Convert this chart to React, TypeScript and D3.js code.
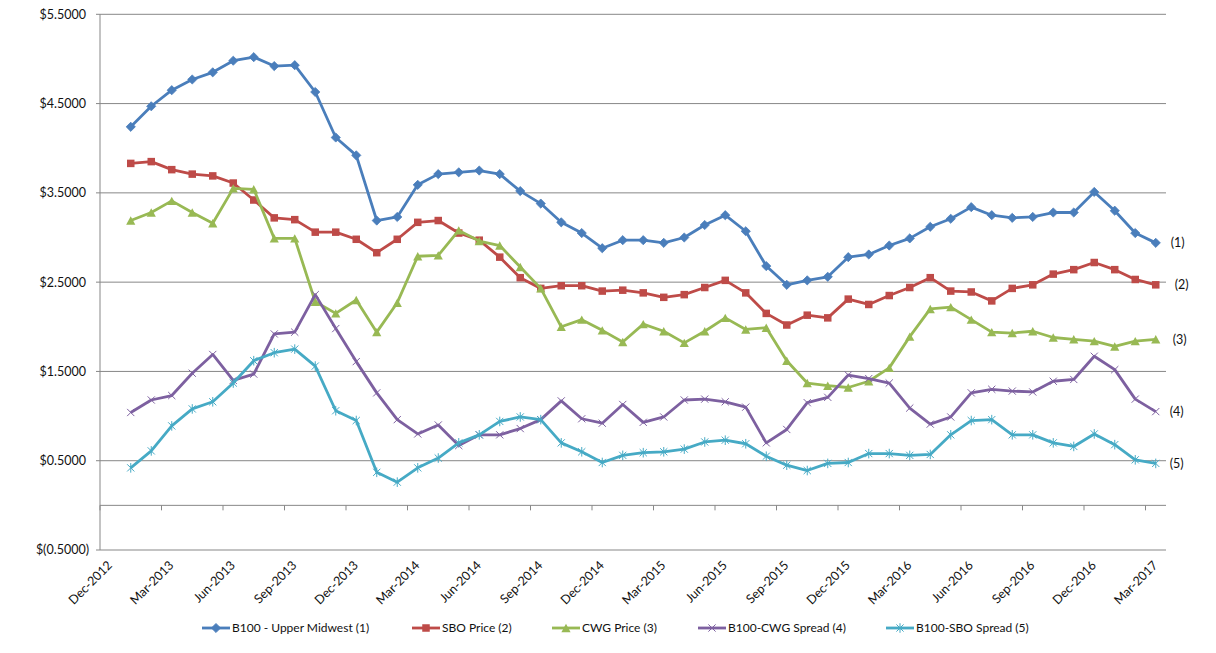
import React from 'react';
import * as d3 from 'd3';

// Category axis: Dec-2012 .. Mar-2017 (monthly), data starts Jan-2013
const axisStart = new Date(2012, 11, 1);
const axisEnd = new Date(2017, 3, 1);
const tickLabels = [
  'Dec-2012', 'Mar-2013', 'Jun-2013', 'Sep-2013', 'Dec-2013', 'Mar-2014', 'Jun-2014', 'Sep-2014', 'Dec-2014',
  'Mar-2015', 'Jun-2015', 'Sep-2015', 'Dec-2015', 'Mar-2016', 'Jun-2016', 'Sep-2016', 'Dec-2016', 'Mar-2017',
];
const yTicks = [5.5, 4.5, 3.5, 2.5, 1.5, 0.5, -0.5];

const b100 = [
  4.24, 4.47, 4.65, 4.77, 4.85, 4.98, 5.02, 4.92, 4.93, 4.63,
  4.12, 3.92, 3.19, 3.23, 3.59, 3.71, 3.73, 3.75, 3.71, 3.52,
  3.38, 3.17, 3.05, 2.88, 2.97, 2.97, 2.94, 3.00, 3.14, 3.25,
  3.07, 2.68, 2.47, 2.52, 2.56, 2.78, 2.81, 2.91, 2.99, 3.12,
  3.21, 3.34, 3.25, 3.22, 3.23, 3.28, 3.28, 3.51, 3.30, 3.05, 2.94,
];
const sbo = [
  3.83, 3.85, 3.76, 3.71, 3.69, 3.61, 3.42, 3.22, 3.20, 3.06,
  3.06, 2.98, 2.83, 2.98, 3.17, 3.19, 3.05, 2.97, 2.78, 2.55,
  2.43, 2.46, 2.46, 2.40, 2.41, 2.38, 2.33, 2.36, 2.44, 2.52,
  2.38, 2.15, 2.02, 2.13, 2.10, 2.31, 2.25, 2.35, 2.44, 2.55,
  2.40, 2.39, 2.29, 2.43, 2.47, 2.59, 2.64, 2.72, 2.64, 2.53, 2.47,
];
const cwg = [
  3.19, 3.28, 3.41, 3.28, 3.16, 3.55, 3.54, 2.99, 2.99, 2.28,
  2.15, 2.30, 1.94, 2.27, 2.79, 2.80, 3.08, 2.96, 2.91, 2.67,
  2.43, 2.00, 2.08, 1.96, 1.83, 2.03, 1.95, 1.82, 1.95, 2.10,
  1.97, 1.99, 1.62, 1.37, 1.34, 1.32, 1.39, 1.54, 1.89, 2.20,
  2.22, 2.08, 1.94, 1.93, 1.95, 1.88, 1.86, 1.84, 1.78, 1.84, 1.86,
];
const cwgSpread = [
  1.04, 1.18, 1.23, 1.48, 1.69, 1.40, 1.47, 1.92, 1.94, 2.36,
  1.98, 1.61, 1.26, 0.96, 0.80, 0.90, 0.67, 0.79, 0.79, 0.86,
  0.96, 1.17, 0.97, 0.92, 1.13, 0.93, 0.99, 1.18, 1.19, 1.16,
  1.10, 0.70, 0.85, 1.15, 1.21, 1.46, 1.42, 1.37, 1.09, 0.91,
  0.99, 1.26, 1.30, 1.28, 1.27, 1.39, 1.41, 1.67, 1.52, 1.19, 1.05,
];
const sboSpread = [
  0.42, 0.61, 0.89, 1.08, 1.16, 1.37, 1.62, 1.71, 1.75, 1.56,
  1.06, 0.95, 0.37, 0.26, 0.42, 0.53, 0.70, 0.79, 0.94, 0.99,
  0.96, 0.70, 0.60, 0.48, 0.56, 0.59, 0.60, 0.63, 0.71, 0.73,
  0.69, 0.55, 0.45, 0.39, 0.47, 0.48, 0.58, 0.58, 0.56, 0.57,
  0.79, 0.95, 0.96, 0.79, 0.79, 0.70, 0.66, 0.80, 0.68, 0.51, 0.47,
];

const seriesNames = ['B100 - Upper Midwest (1)', 'SBO Price (2)', 'CWG Price (3)', 'B100-CWG Spread (4)', 'B100-SBO Spread (5)'];
const endLabels = ['(1)', '(2)', '(3)', '(4)', '(5)'];

const colors = ['#4A7EBB', '#BE4B48', '#98B954', '#7D60A0', '#46AAC5'];
const markerKinds = ['diamond', 'square', 'triangle', 'x', 'star'];
const endLabelDx = [15, 19, 17, 14, 14];
const legendX = [202, 412, 552, 698, 886];

const FONT = 'Lato, "Open Sans", sans-serif';
const TEXT = '#111';

function Marker({ kind, x, y, color }: { kind: string; x: number; y: number; color: string }) {
  if (kind === 'diamond') {
    const r = 4.6;
    return <path d={`M${x},${y - r}L${x + r},${y}L${x},${y + r}L${x - r},${y}Z`} fill={color} stroke={color} strokeWidth={0.8} />;
  }
  if (kind === 'square') {
    const s = 7.5;
    return <rect x={x - s / 2} y={y - s / 2} width={s} height={s} fill={color} />;
  }
  if (kind === 'triangle') {
    const w = 4.6, h = 4.2;
    return <path d={`M${x},${y - h}L${x + w},${y + h}L${x - w},${y + h}Z`} fill={color} />;
  }
  if (kind === 'x') {
    const r = 3.6;
    return <path d={`M${x - r},${y - r}L${x + r},${y + r}M${x - r},${y + r}L${x + r},${y - r}`} stroke={color} strokeWidth={1} fill="none" />;
  }
  const r = 3.6;
  return (
    <path
      d={`M${x - r},${y - r}L${x + r},${y + r}M${x - r},${y + r}L${x + r},${y - r}M${x},${y - 4.8}L${x},${y + 4.8}`}
      stroke={color}
      strokeWidth={1}
      fill="none"
    />
  );
}

export default function App() {
  const W = 1216, H = 653;
  const left = 100, right = 1166, top = 14.3, bottom = 550;
  const months = d3.timeMonth.range(axisStart, axisEnd);
  const fmt = d3.timeFormat('%b-%Y');
  const x = d3.scaleBand<string>().domain(months.map((m) => fmt(m))).range([left, right]).paddingInner(0).paddingOuter(0);
  const bw = x.bandwidth();
  const y = d3.scaleLinear().domain([-0.5, 5.5]).range([bottom, top]);
  const dataMonths = months.slice(1).map((m) => fmt(m));
  const px = (i: number) => (x(dataMonths[i]) as number) + bw / 2;

  const allSeries = [b100, sbo, cwg, cwgSpread, sboSpread];
  const line = d3.line<number>().x((_, i) => px(i)).y((d) => y(d));

  const fmtY = (v: number) => (v < 0 ? `$(${Math.abs(v).toFixed(4)})` : `$${v.toFixed(4)}`);

  return (
    <svg width={W} height={H} style={{ position: 'absolute', left: 0, top: 0, display: 'block', background: '#fff' }} fontFamily={FONT}>
      <rect x={0} y={0} width={W} height={H} fill="#fff" />
      {/* gridlines */}
      {yTicks.map((t) => (
        <g key={t}>
          <line x1={left} x2={right} y1={y(t)} y2={y(t)} stroke="#878787" strokeWidth={1} />
          <line x1={left - 4} x2={left} y1={y(t)} y2={y(t)} stroke="#878787" strokeWidth={1} />
          <text x={t < 0 ? 89 : 86} y={y(t)} dy="0.35em" textAnchor="end" fontSize={12.5} fill={TEXT}>
            {fmtY(t)}
          </text>
        </g>
      ))}
      {/* y axis */}
      <line x1={left} x2={left} y1={top} y2={bottom} stroke="#878787" strokeWidth={1} />
      {/* x axis at zero */}
      <line x1={left} x2={right} y1={y(0)} y2={y(0)} stroke="#878787" strokeWidth={1} />
      {tickLabels.map((lab) => {
        const tx = x(lab) as number;
        return (
          <g key={lab}>
            <line x1={tx} x2={tx} y1={y(0)} y2={y(0) + 5} stroke="#878787" strokeWidth={1} />
            <text transform={`translate(${tx + 13},${566}) rotate(-45)`} textAnchor="end" fontSize={12.5} fill={TEXT}>
              {lab}
            </text>
          </g>
        );
      })}
      {/* series */}
      {allSeries.map((s, k) => (
        <g key={k}>
          <path d={line(s) || ''} fill="none" stroke={colors[k]} strokeWidth={2.8} strokeLinejoin="round" />
          {s.map((v, i) => (
            <Marker key={i} kind={markerKinds[k]} x={px(i)} y={y(v)} color={colors[k]} />
          ))}
          <text x={px(s.length - 1) + endLabelDx[k]} y={y(s[s.length - 1])} dy="0.35em" fontSize={12.5} fill={TEXT}>
            {endLabels[k]}
          </text>
        </g>
      ))}
      {/* legend */}
      {seriesNames.map((n, k) => (
        <g key={n}>
          <line x1={legendX[k]} x2={legendX[k] + 28} y1={628} y2={628} stroke={colors[k]} strokeWidth={2.8} />
          <Marker kind={markerKinds[k]} x={legendX[k] + 14} y={628} color={colors[k]} />
          <text x={legendX[k] + 30} y={628} dy="0.35em" fontSize={12} fill={TEXT}>
            {n}
          </text>
        </g>
      ))}
    </svg>
  );
}
